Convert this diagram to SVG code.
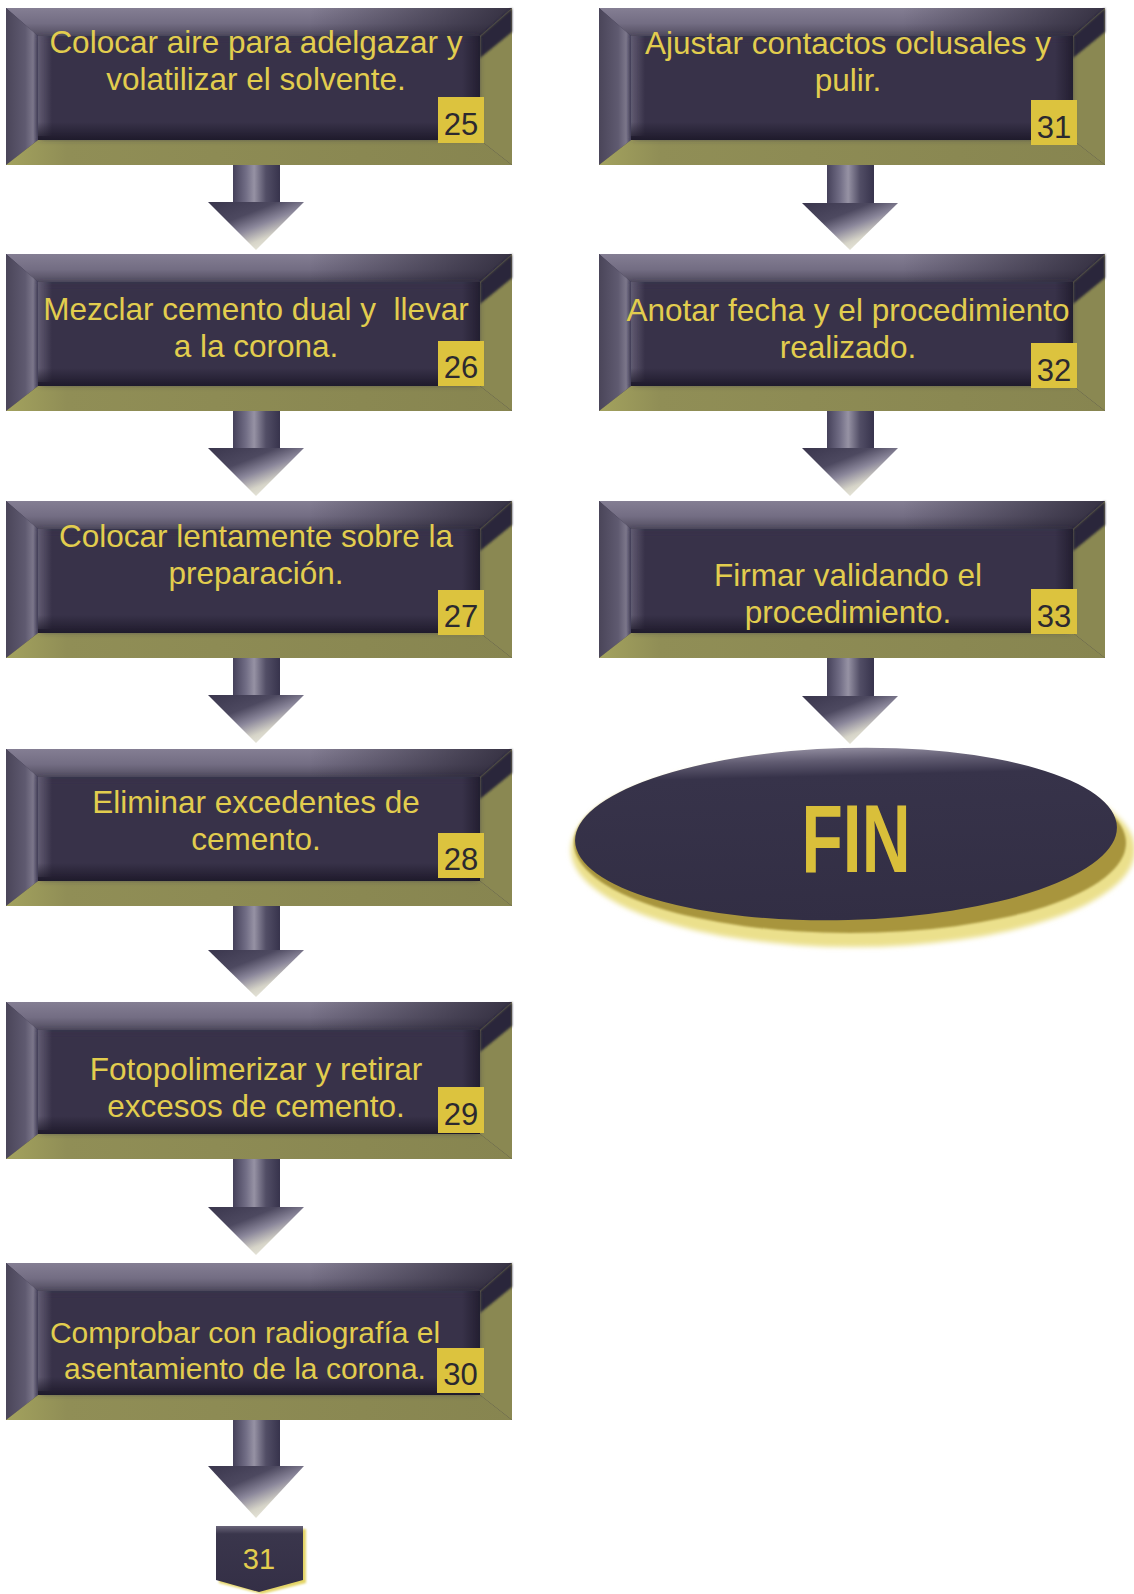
<svg xmlns="http://www.w3.org/2000/svg" xmlns:xlink="http://www.w3.org/1999/xlink" width="1134" height="1594" viewBox="0 0 1134 1594">
<style>
.t{font-family:"Liberation Sans",Arial,sans-serif;font-size:31.5px;fill:#e2cd4e;text-anchor:middle}
.t2{font-family:"Liberation Sans",Arial,sans-serif;font-size:30px;fill:#e2cd4e;text-anchor:middle}
.n{font-family:"Liberation Sans",Arial,sans-serif;font-size:31px;fill:#2b2930;text-anchor:middle}
.badge{fill:#dcc33e}
.shaft{fill:url(#gShaft)}
.head{fill:url(#gHead)}
</style>
<defs>
<filter id="soft" x="-10%" y="-10%" width="120%" height="120%"><feGaussianBlur stdDeviation="1.2"/></filter>
<filter id="faceBlur" x="-5%" y="-10%" width="110%" height="120%"><feGaussianBlur stdDeviation="3"/></filter>
<filter id="glow" x="-10%" y="-20%" width="120%" height="140%"><feGaussianBlur stdDeviation="2.5"/></filter>
<linearGradient id="gTop" x1="0" y1="0" x2="0" y2="1"><stop offset="0" stop-color="#847e93"/><stop offset="0.55" stop-color="#736d83"/><stop offset="1" stop-color="#514c5f"/></linearGradient>
<linearGradient id="gTopDark" x1="0" y1="0" x2="1" y2="0"><stop offset="0" stop-color="#1e1a2a" stop-opacity="0"/><stop offset="0.6" stop-color="#1e1a2a" stop-opacity="0"/><stop offset="1" stop-color="#1e1a2a" stop-opacity="0.75"/></linearGradient>
<linearGradient id="gLeft" x1="0" y1="0" x2="1" y2="0"><stop offset="0" stop-color="#4a4559"/><stop offset="0.6" stop-color="#5f5a70"/><stop offset="0.85" stop-color="#7c778b"/><stop offset="1" stop-color="#45405a"/></linearGradient>
<linearGradient id="gBottom" x1="0" y1="0" x2="1" y2="0"><stop offset="0" stop-color="#a3a25e"/><stop offset="0.12" stop-color="#908e56"/><stop offset="1" stop-color="#878550"/></linearGradient>
<linearGradient id="gShadowB" x1="0" y1="0" x2="0" y2="1"><stop offset="0" stop-color="#1a1626" stop-opacity="0"/><stop offset="1" stop-color="#1a1626" stop-opacity="0.85"/></linearGradient>
<linearGradient id="gShadowR" x1="0" y1="0" x2="1" y2="0"><stop offset="0" stop-color="#1a1626" stop-opacity="0"/><stop offset="1" stop-color="#1a1626" stop-opacity="0.7"/></linearGradient>
<linearGradient id="gGlowL" x1="0" y1="0" x2="1" y2="0"><stop offset="0" stop-color="#8a8499" stop-opacity="0.5"/><stop offset="1" stop-color="#8a8499" stop-opacity="0"/></linearGradient>
<linearGradient id="gShaft" x1="0" y1="0" x2="1" y2="0"><stop offset="0" stop-color="#45415a"/><stop offset="0.28" stop-color="#726e86"/><stop offset="0.45" stop-color="#9692a4"/><stop offset="0.7" stop-color="#524e66"/><stop offset="1" stop-color="#37334c"/></linearGradient>
<linearGradient id="gHead" x1="0" y1="0" x2="0.8" y2="1"><stop offset="0" stop-color="#3a364d"/><stop offset="0.35" stop-color="#4d4960"/><stop offset="0.55" stop-color="#8a869a"/><stop offset="0.75" stop-color="#d6d4c8"/><stop offset="1" stop-color="#f8f7ea"/></linearGradient>
<linearGradient id="gFin" x1="0" y1="0" x2="0" y2="1"><stop offset="0" stop-color="#8e899c"/><stop offset="0.07" stop-color="#615c72"/><stop offset="0.16" stop-color="#37334a"/><stop offset="1" stop-color="#322e44"/></linearGradient>
<linearGradient id="gPent" x1="0" y1="0" x2="0" y2="1"><stop offset="0" stop-color="#6a6579"/><stop offset="0.12" stop-color="#3a364c"/><stop offset="1" stop-color="#342f46"/></linearGradient>
<g id="bevel">
<rect width="506" height="157" fill="#37334a"/>
<polygon points="0,0 506,0 474,28 32,28" fill="url(#gTop)"/>
<polygon points="0,0 506,0 474,28 32,28" fill="url(#gTopDark)"/>
<polygon points="0,0 32,28 32,132 0,157" fill="url(#gLeft)"/>
<polygon points="506,0 506,157 474,132 474,28" fill="#8a8852"/>
<polygon points="506,0 506,24 474,50 474,28" fill="#2c283a" filter="url(#soft)"/>
<polygon points="0,157 506,157 474,132 32,132" fill="url(#gBottom)"/>
<rect x="34" y="30" width="438" height="100" fill="#37334a" filter="url(#faceBlur)"/>
<rect x="32" y="28" width="14" height="100" fill="url(#gGlowL)"/>
<rect x="32" y="114" width="442" height="18" fill="url(#gShadowB)"/>
<rect x="456" y="28" width="18" height="104" fill="url(#gShadowR)"/>
</g>
</defs>
<rect width="1134" height="1594" fill="#ffffff"/>

<g id="connectors">
<rect class="shaft" x="233" y="165" width="47" height="38"/><polygon class="head" points="208,202 304,202 256,250"/>
<rect class="shaft" x="233" y="411" width="47" height="38"/><polygon class="head" points="208,448 304,448 256,496"/>
<rect class="shaft" x="233" y="658" width="47" height="38"/><polygon class="head" points="208,695 304,695 256,743"/>
<rect class="shaft" x="233" y="906" width="47" height="45"/><polygon class="head" points="208,950 304,950 256,997"/>
<rect class="shaft" x="233" y="1159" width="47" height="49"/><polygon class="head" points="208,1207 304,1207 256,1255"/>
<rect class="shaft" x="233" y="1420" width="47" height="47"/><polygon class="head" points="208,1466 304,1466 256,1518"/>
<rect class="shaft" x="827" y="165" width="47" height="39"/><polygon class="head" points="802,203 898,203 850,250"/>
<rect class="shaft" x="827" y="411" width="47" height="38"/><polygon class="head" points="802,448 898,448 850,496"/>
<rect class="shaft" x="827" y="658" width="47" height="39"/><polygon class="head" points="802,696 898,696 850,744"/>
</g>

<g id="n25">
<use xlink:href="#bevel" x="6" y="8"/>
<text class="t" x="256" y="53">Colocar aire para adelgazar y</text>
<text class="t" x="256" y="90">volatilizar el solvente.</text>
<rect class="badge" x="438" y="97" width="46" height="46"/>
<text class="n" x="461" y="135">25</text>
</g>
<g id="n26">
<use xlink:href="#bevel" x="6" y="254"/>
<text class="t" x="256" y="320" xml:space="preserve">Mezclar cemento dual y  llevar</text>
<text class="t" x="256" y="357">a la corona.</text>
<rect class="badge" x="438" y="341" width="46" height="45"/>
<text class="n" x="461" y="378">26</text>
</g>
<g id="n27">
<use xlink:href="#bevel" x="6" y="501"/>
<text class="t" x="256" y="547">Colocar lentamente sobre la</text>
<text class="t" x="256" y="584">preparación.</text>
<rect class="badge" x="438" y="590" width="46" height="45"/>
<text class="n" x="461" y="627">27</text>
</g>
<g id="n28">
<use xlink:href="#bevel" x="6" y="749"/>
<text class="t" x="256" y="813">Eliminar excedentes de</text>
<text class="t" x="256" y="850">cemento.</text>
<rect class="badge" x="438" y="833" width="46" height="45"/>
<text class="n" x="461" y="870">28</text>
</g>
<g id="n29">
<use xlink:href="#bevel" x="6" y="1002"/>
<text class="t" x="256" y="1080">Fotopolimerizar y retirar</text>
<text class="t" x="256" y="1117">excesos de cemento.</text>
<rect class="badge" x="438" y="1087" width="46" height="46"/>
<text class="n" x="461" y="1125">29</text>
</g>
<g id="n30">
<use xlink:href="#bevel" x="6" y="1263"/>
<text class="t2" x="245" y="1343">Comprobar con radiografía el</text>
<text class="t2" x="245" y="1379">asentamiento de la corona.</text>
<rect class="badge" x="437" y="1348" width="47" height="45"/>
<text class="n" x="460.5" y="1385">30</text>
</g>
<g id="n31">
<use xlink:href="#bevel" x="599" y="8"/>
<text class="t" x="848" y="54">Ajustar contactos oclusales y</text>
<text class="t" x="848" y="91">pulir.</text>
<rect class="badge" x="1031" y="100" width="46" height="45"/>
<text class="n" x="1054" y="138">31</text>
</g>
<g id="n32">
<use xlink:href="#bevel" x="599" y="254"/>
<text class="t" x="848" y="321">Anotar fecha y el procedimiento</text>
<text class="t" x="848" y="358">realizado.</text>
<rect class="badge" x="1031" y="343" width="46" height="45"/>
<text class="n" x="1054" y="381">32</text>
</g>
<g id="n33">
<use xlink:href="#bevel" x="599" y="501"/>
<text class="t" x="848" y="586">Firmar validando el</text>
<text class="t" x="848" y="623">procedimiento.</text>
<rect class="badge" x="1031" y="589" width="46" height="45"/>
<text class="n" x="1054" y="627">33</text>
</g>
<g id="fin">
<ellipse cx="853" cy="850" rx="282" ry="97" fill="#ebe08c" filter="url(#glow)"/>
<ellipse cx="850" cy="843" rx="276" ry="90" fill="#a8953e" filter="url(#soft)"/>
<ellipse cx="846" cy="834" rx="271" ry="86" fill="url(#gFin)" transform="rotate(-1.5 846 834)"/>
<text x="856" y="872" textLength="109" lengthAdjust="spacingAndGlyphs" style="font-family:'Liberation Sans',Arial,sans-serif;font-weight:bold;font-size:96px;fill:#d9bf3a;text-anchor:middle">FIN</text>
</g>
<g id="goto31">
<path d="M219,1529 L306,1529 L306,1583 L262,1594 L219,1583Z" fill="#e4d466" filter="url(#soft)"/>
<path d="M216,1526 L303,1526 L303,1580 L259,1592 L216,1580Z" fill="url(#gPent)"/>
<text x="259" y="1569" style="font-family:'Liberation Sans',Arial,sans-serif;font-size:29px;fill:#e2cd4e;text-anchor:middle">31</text>
</g>
</svg>
